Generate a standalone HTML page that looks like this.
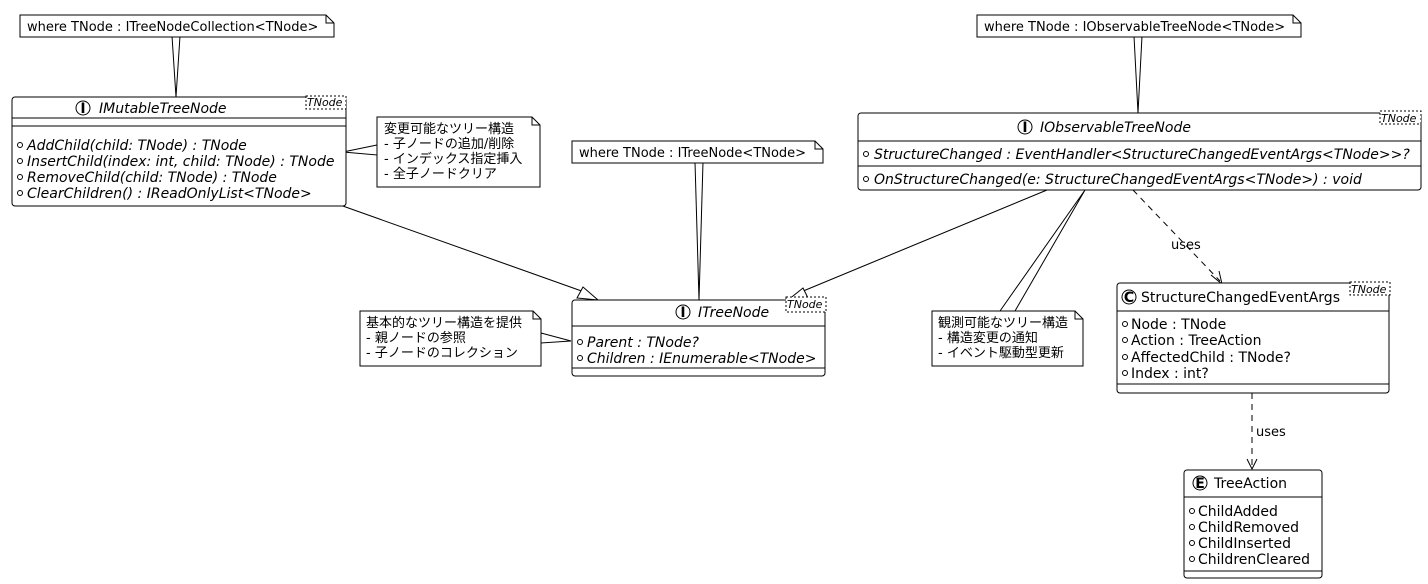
<!DOCTYPE html>
<html><head><meta charset="utf-8"><style>
body{margin:0;background:#fff}
svg{display:block}
text{font-family:"DejaVu Sans","Noto Sans CJK JP",sans-serif;font-size:14px;fill:#000}
.i{font-style:italic}
.h{font-size:14px}
.s{font-size:11px;font-style:italic}
.n{font-size:13px}
</style></head><body>
<svg width="1428" height="584" viewBox="0 0 1428 584" xmlns="http://www.w3.org/2000/svg">
<g fill="#fff" stroke="#000" stroke-width="1">
<line x1="340" y1="205" x2="590" y2="294"/>
<polygon points="598,300 577,298 583,287" fill="#fff"/>
<line x1="1047" y1="190" x2="796" y2="294"/>
<polygon points="788,300 803,288 808,298" fill="#fff"/>
<line x1="1133" y1="190" x2="1220" y2="281" stroke-dasharray="6,5"/>
<polyline points="1211,275 1222,284 1219,271" fill="none"/>
<line x1="1252" y1="393" x2="1252" y2="468" stroke-dasharray="6,5"/>
<polyline points="1247,459 1252,469 1257,459" fill="none"/>

<polygon points="172,36 176,97 180,36" />
<polygon points="695,162 699,300 703,162"/>
<polygon points="1134,36 1138,113 1142,36"/>
<polygon points="377,145 343,152 377,155"/>
<polygon points="541,333 571,341 541,343"/>
<polygon points="1000,311 1085,190 1015,311"/>

<path d="M20,15 H326 L334,23 V37 H20 Z"/><path d="M326,15 V23 H334" fill="none"/>
<path d="M977,15 H1293 L1301,23 V37 H977 Z"/><path d="M1293,15 V23 H1301" fill="none"/>
<path d="M572,141 H815 L823,149 V163 H572 Z"/><path d="M815,141 V149 H823" fill="none"/>
<path d="M377,117 H532 L540,125 V187 H377 Z"/><path d="M532,117 V125 H540" fill="none"/>
<path d="M360,311 H533 L541,319 V366 H360 Z"/><path d="M533,311 V319 H541" fill="none"/>
<path d="M932,311 H1075 L1083,319 V366 H932 Z"/><path d="M1075,311 V319 H1083" fill="none"/>

<rect x="12" y="97" width="334" height="109" rx="3"/>
<line x1="12" y1="118" x2="346" y2="118"/><line x1="12" y1="126" x2="346" y2="126"/>
<rect x="306" y="96" width="40" height="13" stroke-dasharray="2,2"/>

<rect x="572" y="300" width="253" height="76" rx="3"/>
<line x1="572" y1="326" x2="825" y2="326"/><line x1="572" y1="368" x2="825" y2="368"/>
<rect x="786" y="297" width="40" height="15" stroke-dasharray="2,2"/>

<rect x="858" y="113" width="563" height="77" rx="3"/>
<line x1="858" y1="141" x2="1421" y2="141"/><line x1="858" y1="166" x2="1421" y2="166"/>
<rect x="1380" y="111" width="41" height="13" stroke-dasharray="2,2"/>

<rect x="1117" y="283" width="272" height="110" rx="3"/>
<line x1="1117" y1="311" x2="1389" y2="311"/><line x1="1117" y1="384" x2="1389" y2="384"/>
<rect x="1350" y="282" width="40" height="13" stroke-dasharray="2,2"/>

<rect x="1184" y="470" width="138" height="108" rx="3"/>
<line x1="1184" y1="497" x2="1322" y2="497"/><line x1="1184" y1="571" x2="1322" y2="571"/>

<circle cx="83" cy="108" r="7"/>
<circle cx="683" cy="312" r="7"/>
<circle cx="1025" cy="127" r="7"/>
<circle cx="1129" cy="297" r="7"/>
<circle cx="1200" cy="483" r="7"/>

<!-- member bullets -->
<circle cx="20" cy="145" r="2.5"/><circle cx="20" cy="161" r="2.5"/><circle cx="20" cy="177" r="2.5"/><circle cx="20" cy="193" r="2.5"/>
<circle cx="580" cy="342" r="2.5"/><circle cx="580" cy="358" r="2.5"/>
<circle cx="866" cy="154" r="2.5"/><circle cx="866" cy="179" r="2.5"/>
<circle cx="1125" cy="324" r="2.5"/><circle cx="1125" cy="340" r="2.5"/><circle cx="1125" cy="357" r="2.5"/><circle cx="1125" cy="373" r="2.5"/>
<circle cx="1192" cy="511" r="2.5"/><circle cx="1192" cy="527" r="2.5"/><circle cx="1192" cy="543" r="2.5"/><circle cx="1192" cy="559" r="2.5"/>
</g>
<g text-anchor="middle">
<text x="83" y="113" style="font-weight:bold">I</text>
<text x="683" y="317" style="font-weight:bold">I</text>
<text x="1025" y="132" style="font-weight:bold">I</text>
<text x="1129" y="302" style="font-weight:bold">C</text>
<text x="1200" y="488" style="font-weight:bold">E</text>
</g>

<text class="n" x="27" y="31">where TNode : ITreeNodeCollection&lt;TNode&gt;</text>
<text class="n" x="984" y="31">where TNode : IObservableTreeNode&lt;TNode&gt;</text>
<text class="n" x="579" y="157">where TNode : ITreeNode&lt;TNode&gt;</text>
<text class="n" x="384" y="133">変更可能なツリー構造</text>
<text class="n" x="384" y="148">- 子ノードの追加/削除</text>
<text class="n" x="384" y="163">- インデックス指定挿入</text>
<text class="n" x="384" y="178">- 全子ノードクリア</text>
<text class="n" x="366" y="327">基本的なツリー構造を提供</text>
<text class="n" x="366" y="342">- 親ノードの参照</text>
<text class="n" x="366" y="357">- 子ノードのコレクション</text>
<text class="n" x="938" y="327">観測可能なツリー構造</text>
<text class="n" x="938" y="342">- 構造変更の通知</text>
<text class="n" x="938" y="357">- イベント駆動型更新</text>

<text class="i h" x="99" y="113">IMutableTreeNode</text>
<text class="s" x="307" y="106">TNode</text>
<text class="i" x="27" y="150">AddChild(child: TNode) : TNode</text>
<text class="i" x="27" y="166">InsertChild(index: int, child: TNode) : TNode</text>
<text class="i" x="27" y="182">RemoveChild(child: TNode) : TNode</text>
<text class="i" x="27" y="198">ClearChildren() : IReadOnlyList&lt;TNode&gt;</text>

<text class="i h" x="698" y="317">ITreeNode</text>
<text class="s" x="787" y="308">TNode</text>
<text class="i" x="587" y="347">Parent : TNode?</text>
<text class="i" x="587" y="363">Children : IEnumerable&lt;TNode&gt;</text>

<text class="i h" x="1040" y="132">IObservableTreeNode</text>
<text class="s" x="1381" y="122">TNode</text>
<text class="i" x="874" y="159">StructureChanged : EventHandler&lt;StructureChangedEventArgs&lt;TNode&gt;&gt;?</text>
<text class="i" x="874" y="184">OnStructureChanged(e: StructureChangedEventArgs&lt;TNode&gt;) : void</text>

<text class="h" x="1141" y="302">StructureChangedEventArgs</text>
<text class="s" x="1351" y="293">TNode</text>
<text x="1131" y="329">Node : TNode</text>
<text x="1131" y="345">Action : TreeAction</text>
<text x="1131" y="362">AffectedChild : TNode?</text>
<text x="1131" y="378">Index : int?</text>

<text class="h" x="1214" y="488">TreeAction</text>
<text x="1198" y="516">ChildAdded</text>
<text x="1198" y="532">ChildRemoved</text>
<text x="1198" y="548">ChildInserted</text>
<text x="1198" y="564">ChildrenCleared</text>

<text class="n" x="1171" y="249">uses</text>
<text class="n" x="1256" y="436">uses</text>
</svg>
</body></html>
